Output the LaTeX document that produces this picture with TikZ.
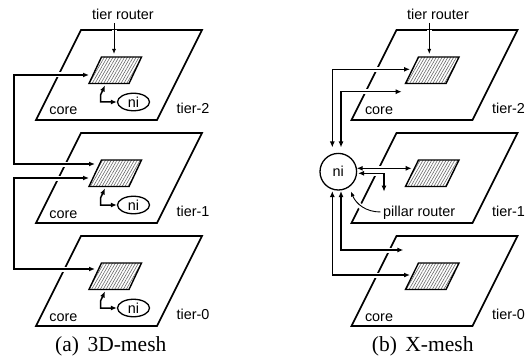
\documentclass[tikz,border=0pt]{standalone}
\usepackage{fontspec}
\setsansfont{Liberation Sans}
\newfontfamily\capfont{Liberation Serif}
\usetikzlibrary{arrows.meta,shapes.geometric,patterns.meta}
\begin{document}
\begin{tikzpicture}[x=1pt,y=-1pt,
  plane/.style={draw,line width=1.7pt,line join=miter},
  routerbox/.style={draw,line width=1.4pt,pattern={Lines[angle=60,distance=2.5pt,line width=0.6pt]},pattern color=black!60},
  conn/.style={line width=1.5pt,{Latex[length=6pt,width=5pt]}-{Latex[length=6pt,width=5pt]}},
  halo/.style={preaction={draw=white,line width=5pt,arrows=-,shorten <=7pt,shorten >=7pt}},
  thinarrow/.style={line width=0.9pt,-{Latex[length=5pt,width=4pt]}},
  lbl/.style={font=\sffamily\fontsize{14.4}{17}\selectfont,inner sep=0pt,anchor=base},
  caplbl/.style={font=\capfont\fontsize{21.5}{24}\selectfont,inner sep=0pt,anchor=base west},
  niell/.style={draw,ellipse,line width=1.3pt,minimum width=32pt,minimum height=17.5pt,inner sep=0pt,font=\sffamily\fontsize{14.4}{17}\selectfont},
  nicirc/.style={draw,circle,line width=1.3pt,minimum size=36.6pt,inner sep=0pt,font=\sffamily\fontsize{14.4}{17}\selectfont}]
\useasboundingbox (0,0) rectangle (529,358);

% ---------------- (a) 3D-mesh ----------------
\foreach \t/\dy in {2/0,1/103,0/206}{
  \begin{scope}[shift={(0,\dy)}]
    \draw[plane] (81,30) -- (202,30) -- (157,120) -- (36,120) -- cycle;
    \draw[routerbox] (101.5,57) -- (141.5,57) -- (129,83.5) -- (89,83.5) -- cycle;
    \node[niell] (nia\t) at (133.5,102) {ni};
    \node[lbl] (corea\t) at (63.5,115) {core};
    \node[lbl] (tiera\t) at (193,113.7) {tier-\t};
    \coordinate (ra\t) at (105,85.5);
    \coordinate (ka\t) at (100.5,95);
    \draw[conn] (ra\t) -- (ka\t) -- (ka\t |- nia\t.west) -- (nia\t.west);
  \end{scope}
}
\node[lbl] (tra) at (123,19.5) {tier router};
\coordinate (tra-s) at (114,23);
\coordinate (tra-e) at (114,54);
\draw[thinarrow,halo] (tra-s) -- (tra-e);

\coordinate (La) at (14,0);
\coordinate (A2) at (89,75);
\coordinate (A1a) at (95,164);
\coordinate (A1b) at (89,178);
\coordinate (A0) at (95,269);
\draw[conn,halo] (A2) -- (A2 -| La) -- (A1a -| La) -- (A1a);
\draw[conn,halo] (A1b) -- (A1b -| La) -- (A0 -| La) -- (A0);

\node[caplbl] (capa) at (55,351.5) {(a)\hspace{8.5pt}3D-mesh};

% ---------------- (b) X-mesh ----------------
\foreach \t/\dy in {2/0,1/103,0/206}{
  \begin{scope}[shift={(0,\dy)}]
    \draw[plane] (396.5,30) -- (517.5,30) -- (472.5,120) -- (351.5,120) -- cycle;
    \draw[routerbox] (418.5,57) -- (459,57) -- (446,83.5) -- (405.5,83.5) -- cycle;
    \node[lbl] (tierb\t) at (508.5,113.7) {tier-\t};
  \end{scope}
}
\node[lbl] (coreb2) at (379,115) {core};
\node[lbl] (coreb0) at (379,321) {core};
\node[lbl] (trb) at (438,19.5) {tier router};
\coordinate (trb-s) at (429.3,23);
\coordinate (trb-e) at (429.3,54);
\draw[thinarrow,halo] (trb-s) -- (trb-e);

\node[nicirc] (nib) at (338.3,171.7) {ni};

% top connectors
\coordinate (T1n) at (332.3,147.5);
\coordinate (T1r) at (410,69.3);
\coordinate (T2n) at (341,147.5);
\coordinate (T2c) at (401.7,91.7);
\draw[conn,halo] (T1n) -- (T1n |- T1r) -- (T1r);
\draw[conn,halo] (T2n) -- (T2n |- T2c) -- (T2c);
% middle connectors
\coordinate (M1n) at (356.7,168.3);
\coordinate (M1r) at (411.7,168.3);
\coordinate (M2n) at (358,173.3);
\coordinate (M2c) at (384,191.7);
\draw[conn,halo] (M1n) -- (M1r);
\draw[conn,halo] (M2n) -- (M2c |- M2n) -- (M2c);
% bottom connectors
\coordinate (B1n) at (332.3,191);
\coordinate (B1r) at (410,275);
\coordinate (B2n) at (341,191);
\coordinate (B2c) at (403.3,250);
\draw[conn,halo] (B1n) -- (B1n |- B1r) -- (B1r);
\draw[conn,halo] (B2n) -- (B2n |- B2c) -- (B2c);

% pillar router
\node[lbl] (pr) at (419.2,216.5) {pillar router};
\coordinate (prs) at (380.5,212);
\coordinate (pre) at (351,191.5);
\draw[thinarrow,halo] (prs) .. controls (366,212) and (356,204) .. (pre);

\node[caplbl] (capb) at (371.7,351.5) {(b)\hspace{8.5pt}X-mesh};
\end{tikzpicture}
\end{document}
